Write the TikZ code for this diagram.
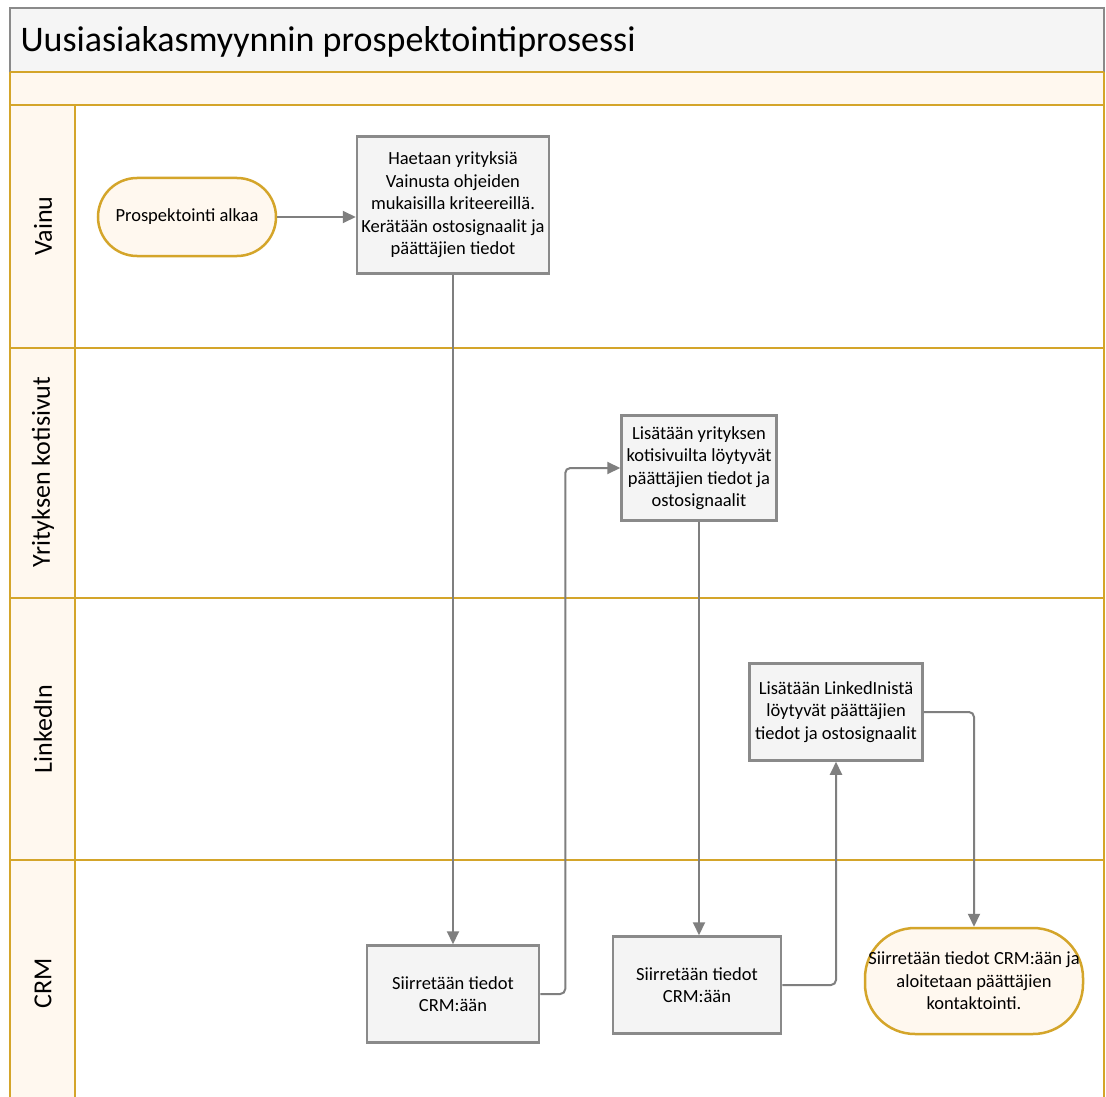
\documentclass[tikz,border=0pt]{standalone}
\usepackage{fontspec}
\setmainfont{Carlito}
\usetikzlibrary{arrows.meta}
\definecolor{gold}{HTML}{D4A52A}
\definecolor{cream}{HTML}{FFF8EF}
\definecolor{boxfill}{HTML}{F4F4F4}
\definecolor{boxline}{HTML}{8A8A8A}
\definecolor{arrowc}{HTML}{7F7F7F}
\definecolor{titlefill}{HTML}{F5F5F5}
\tikzset{
  lane/.style={draw=gold, line width=2.5pt},
  procbox/.style={draw=boxline, fill=boxfill, line width=2.5pt, align=center,
    font=\fontsize{18.5}{22.5}\selectfont, inner sep=1pt},
  term/.style={draw=gold, fill=cream, line width=2.5pt, align=center,
    font=\fontsize{18.5}{22.5}\selectfont, inner sep=1pt},
  flow/.style={draw=arrowc, line width=2pt, rounded corners=5pt,
    -{Triangle[length=13pt,width=12pt]}},
  lanelabel/.style={rotate=90, font=\fontsize{26}{30}\selectfont},
}
\begin{document}
\begin{tikzpicture}[x=1pt,y=-1pt]
\useasboundingbox (0,0) rectangle (1106,1097);
% title
\draw[draw=boxline, fill=titlefill, line width=2.5pt] (10,1097) -- (10,8) -- (1104,8) -- (1104,1097);
\fill[titlefill] (11,9) rectangle (1103,72);
\node[anchor=west, font=\fontsize{36}{40}\selectfont] (title) at (17,42) {Uusiasiakasmyynnin prospektointiprosessi};
% band
\fill[cream] (10,72) rectangle (1104,105);
% lane label column
\fill[cream] (10,105) rectangle (75,1097);
\fill[white] (75,105) rectangle (1104,1097);
% lines
\draw[lane] (10,72) -- (1104,72);
\draw[lane] (10,105) -- (1104,105);
\draw[lane] (10,348) -- (1104,348);
\draw[lane] (10,598) -- (1104,598);
\draw[lane] (10,860) -- (1104,860);
\draw[lane] (10,72) -- (10,1097);
\draw[lane] (1104,72) -- (1104,1097);
\draw[lane] (75,105) -- (75,1097);
% lane labels
\node[lanelabel] (l1) at (43,226) {Vainu};
\node[lanelabel] (l2) at (43,472) {Yrityksen kotisivut};
\node[lanelabel] (l3) at (43,729) {LinkedIn};
\node[lanelabel] (l4) at (43,983) {CRM};
% nodes
\node[term, rounded corners=39pt, minimum width=178pt, minimum height=78pt] (start) at (187,217) {Prospektointi alkaa};
\node[procbox, minimum width=192pt, minimum height=137pt] (b1) at (453,205)
  {Haetaan yrityksiä\\Vainusta ohjeiden\\mukaisilla kriteereillä.\\Kerätään ostosignaalit ja\\päättäjien tiedot};
\node[procbox, minimum width=155pt, minimum height=105pt] (b2) at (699,468)
  {Lisätään yrityksen\\kotisivuilta löytyvät\\päättäjien tiedot ja\\ostosignaalit};
\node[procbox, minimum width=173pt, minimum height=97pt] (b3) at (836,712)
  {Lisätään LinkedInistä\\löytyvät päättäjien\\tiedot ja ostosignaalit};
\node[procbox, minimum width=172pt, minimum height=97pt] (b4) at (453,994)
  {Siirretään tiedot\\CRM:ään};
\node[procbox, minimum width=168pt, minimum height=97pt] (b5) at (697,985)
  {Siirretään tiedot\\CRM:ään};
\node[term, rounded corners=50pt, minimum width=218pt, minimum height=106pt, inner sep=0pt] (end) at (974,981)
  {Siirretään tiedot CRM:ään ja\\aloitetaan päättäjien\\kontaktointi.};
% connectors
\draw[flow] (start.east) -- (start.east -| b1.west);
\draw[flow] (b1.south) -- (b4.north);
\draw[flow] (b4.east) -- ++(25,0) |- (b2.west);
\draw[flow] (b2.south) -- (b2.south |- b5.north);
\draw[flow] (b5.east) -| (b3.south);
\draw[flow] (b3.east) -| (end.north);
\end{tikzpicture}
\end{document}
